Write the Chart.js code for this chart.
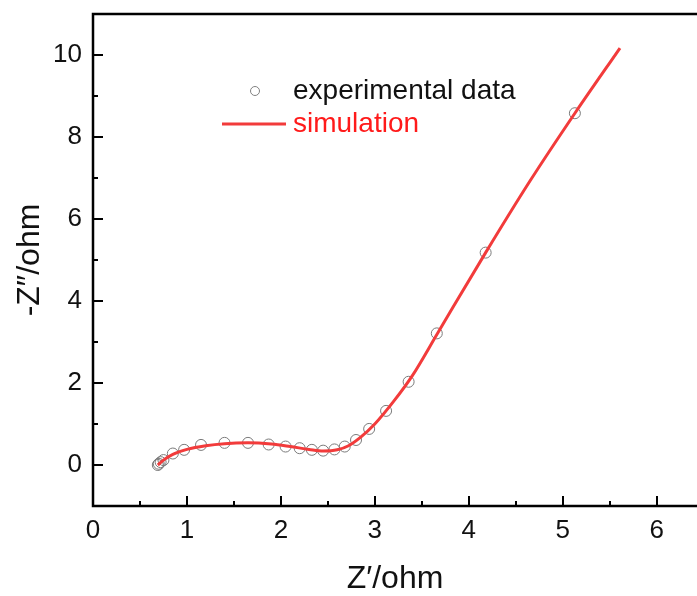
<!DOCTYPE html>
<html>
<head>
<meta charset="utf-8">
<script src="https://cdn.jsdelivr.net/npm/chart.js@4"></script>
<style>
  html, body { margin: 0; padding: 0; background: #fff; overflow: hidden; }
  #wrap { width: 697px; height: 596px; }
</style>
</head>
<body>
<div id="wrap"><canvas id="c"></canvas></div>
<script>
// measured points
const expX = [0.69, 0.70, 0.72, 0.75, 0.85, 0.97, 1.15, 1.40, 1.65, 1.87, 2.05, 2.20, 2.33, 2.45, 2.57, 2.68, 2.80, 2.94, 3.12, 3.36, 3.66, 4.18, 5.13];
const expY = [0.00, 0.03, 0.07, 0.12, 0.28, 0.37, 0.49, 0.54, 0.54, 0.50, 0.45, 0.41, 0.37, 0.35, 0.38, 0.45, 0.61, 0.88, 1.32, 2.03, 3.21, 5.18, 8.58];

// fitted curve
const simX = [0.69, 0.75, 0.85, 1.00, 1.20, 1.40, 1.65, 1.90, 2.10, 2.30, 2.45, 2.60, 2.72, 2.85, 3.00, 3.20, 3.40, 3.67, 4.18, 4.65, 5.13, 5.61];
const simY = [0.00, 0.12, 0.26, 0.38, 0.47, 0.52, 0.54, 0.51, 0.45, 0.38, 0.34, 0.37, 0.47, 0.68, 1.00, 1.55, 2.18, 3.22, 5.18, 6.92, 8.58, 10.17];

const xTicks = [0, 1, 2, 3, 4, 5, 6];
const yTicks = [0, 2, 4, 6, 8, 10];

const legendLabels = ['experimental data', 'simulation'];

const FONT = '"Liberation Sans", Arial, sans-serif';

// inward ticks, frame and legend
const framePlugin = {
    id: 'frame',
    afterDraw(chart) {
        const ctx = chart.ctx;
        const a = chart.chartArea;
        const xs = chart.scales.x;
        const ys = chart.scales.y;
        ctx.save();
        ctx.strokeStyle = '#000';
        ctx.lineWidth = 2.5;
        ctx.beginPath();
        ctx.moveTo(chart.width, a.top);
        ctx.lineTo(a.left, a.top);
        ctx.lineTo(a.left, a.bottom);
        ctx.lineTo(chart.width, a.bottom);
        ctx.stroke();

        ctx.lineWidth = 2;
        ctx.beginPath();
        for (let v = 0; v <= xs.max; v += 0.5) {
            const px = Math.round(xs.getPixelForValue(v));
            const len = Number.isInteger(v) ? 10 : 5;
            ctx.moveTo(px, a.bottom);
            ctx.lineTo(px, a.bottom - len);
        }
        for (let v = 0; v <= ys.max; v += 1) {
            const py = Math.round(ys.getPixelForValue(v));
            const len = v % 2 === 0 ? 10 : 5;
            ctx.moveTo(a.left, py);
            ctx.lineTo(a.left + len, py);
        }
        ctx.stroke();

        // legend
        ctx.font = '28px ' + FONT;
        ctx.textBaseline = 'alphabetic';
        ctx.textAlign = 'left';
        ctx.lineWidth = 1;
        ctx.strokeStyle = '#808080';
        ctx.beginPath();
        ctx.arc(255, 91, 4.5, 0, Math.PI * 2);
        ctx.stroke();
        ctx.fillStyle = '#111';
        ctx.fillText(legendLabels[0], 293, 99);

        ctx.strokeStyle = '#f23b3b';
        ctx.lineWidth = 3;
        ctx.beginPath();
        ctx.moveTo(222, 124);
        ctx.lineTo(286, 124);
        ctx.stroke();
        ctx.fillStyle = '#ff1a1a';
        ctx.fillText(legendLabels[1], 293, 132);
        ctx.restore();
    }
};

new Chart(document.getElementById('c'), {
    type: 'scatter',
    data: {
        datasets: [
            {
                label: legendLabels[1],
                data: simX.map((x, i) => ({ x: x, y: simY[i] })),
                showLine: true,
                borderColor: '#f23b3b',
                borderWidth: 3,
                pointRadius: 0,
                cubicInterpolationMode: 'monotone',
                order: 0
            },
            {
                label: legendLabels[0],
                data: expX.map((x, i) => ({ x: x, y: expY[i] })),
                showLine: false,
                pointStyle: 'circle',
                pointRadius: 5.5,
                pointBorderWidth: 1,
                pointBorderColor: '#7a7a7a',
                pointBackgroundColor: 'rgba(0,0,0,0)',
                order: 1
            }
        ]
    },
    options: {
        responsive: true,
        maintainAspectRatio: false,
        animation: false,
        layout: { autoPadding: false, padding: { top: 14, right: 0, left: 0, bottom: 0 } },
        plugins: {
            legend: { display: false },
            tooltip: { enabled: false }
        },
        scales: {
            x: {
                type: 'linear',
                bounds: 'data',
                min: 0,
                max: 6.43,
                afterBuildTicks: s => { s.ticks = xTicks.map(v => ({ value: v })); },
                afterFit: s => { s.height = 90; s.paddingLeft = 0; s.paddingRight = 0; },
                grid: { display: false, drawTicks: false },
                border: { display: false },
                ticks: {
                    padding: 9,
                    color: '#111',
                    font: { family: FONT, size: 26 }
                },
                title: {
                    display: true,
                    text: 'Z′/ohm',
                    color: '#111',
                    padding: { top: 0, bottom: -2 },
                    font: { family: FONT, size: 32 }
                }
            },
            y: {
                type: 'linear',
                bounds: 'data',
                min: -1,
                max: 11,
                afterBuildTicks: s => { s.ticks = yTicks.map(v => ({ value: v })); },
                afterFit: s => { s.width = 93; s.paddingTop = 0; s.paddingBottom = 0; },
                grid: { display: false, drawTicks: false },
                border: { display: false },
                ticks: {
                    padding: 11,
                    color: '#111',
                    font: { family: FONT, size: 26 }
                },
                title: {
                    display: true,
                    text: '-Z″/ohm',
                    color: '#111',
                    padding: { top: 11, bottom: 0 },
                    font: { family: FONT, size: 32 }
                }
            }
        }
    },
    plugins: [framePlugin]
});
</script>
</body>
</html>
